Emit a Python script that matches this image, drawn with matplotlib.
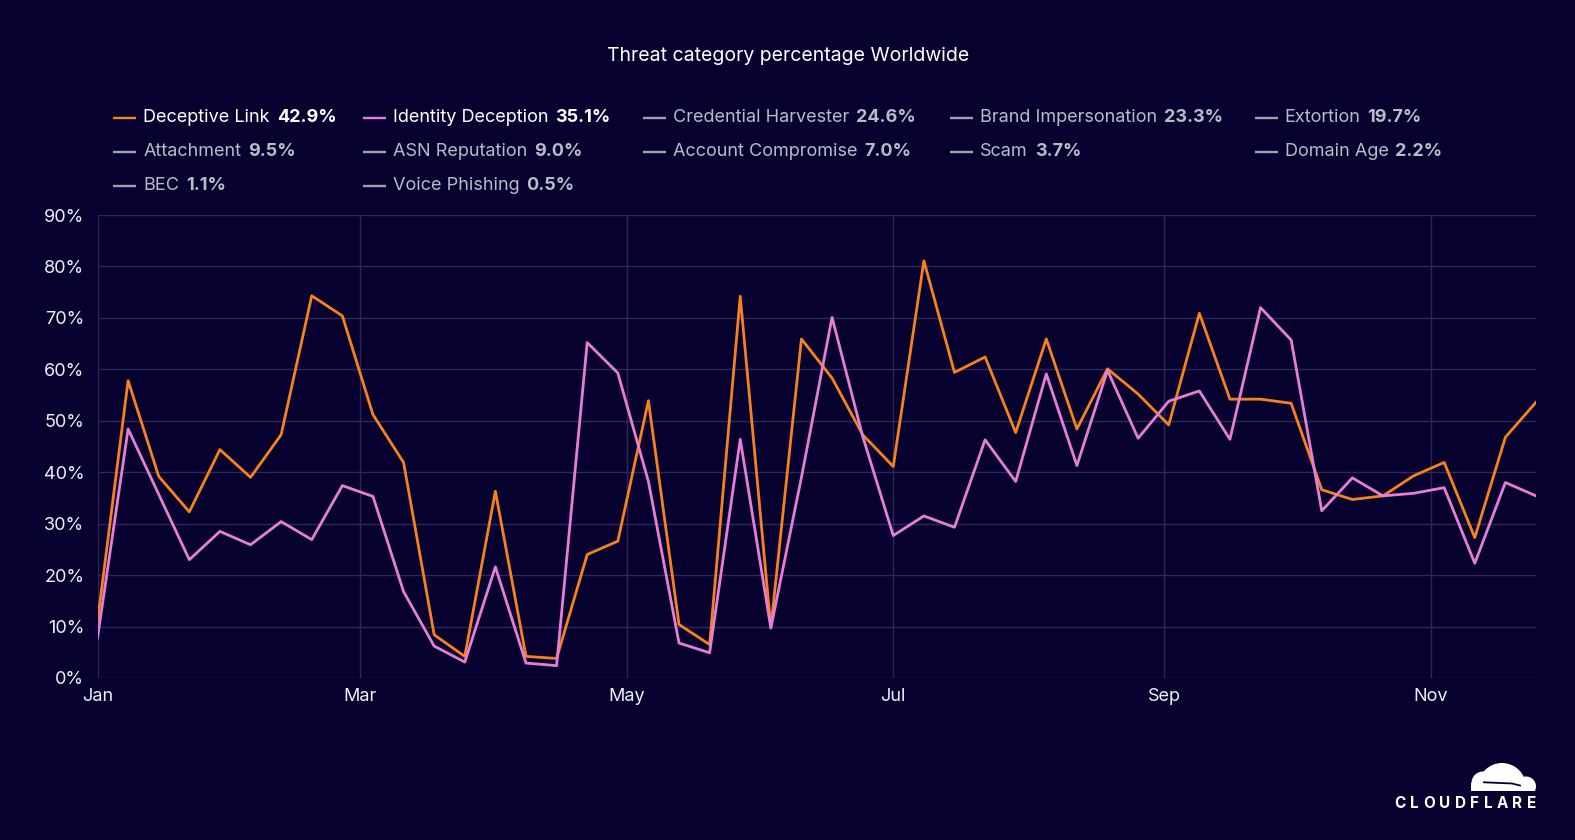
import matplotlib
matplotlib.use('Agg')
import pandas as pd
import matplotlib.pyplot as plt
import matplotlib.dates as mdates
from matplotlib.ticker import MultipleLocator, FuncFormatter
from matplotlib.patches import Circle, Rectangle

# weekly data
dates = pd.date_range('2024-01-01', periods=48, freq='7D')
deceptive_link = [11.0, 57.8, 39.2, 32.3, 44.4, 39.0, 47.3, 74.3, 70.4, 51.2,
                  41.9, 8.4, 4.2, 36.3, 4.2, 3.8, 24.0, 26.6, 53.9, 10.4,
                  6.5, 74.2, 9.8, 65.9, 58.3, 47.3, 41.1, 81.1, 59.4, 62.4,
                  47.7, 65.9, 48.4, 60.1, 55.2, 49.2, 70.9, 54.2, 54.2, 53.4,
                  36.6, 34.7, 35.4, 39.3, 41.9, 27.3, 46.8, 53.6]
identity_deception = [7.8, 48.4, 35.7, 23.0, 28.5, 25.9, 30.4, 26.9, 37.4, 35.3,
                      16.8, 6.2, 3.1, 21.6, 2.9, 2.4, 65.2, 59.3, 38.2, 6.8,
                      4.9, 46.4, 9.7, 39.0, 70.1, 47.0, 27.7, 31.5, 29.3, 46.3,
                      38.2, 59.1, 41.3, 59.8, 46.6, 53.8, 55.8, 46.4, 72.0, 65.7,
                      32.5, 38.9, 35.4, 35.9, 37.0, 22.3, 38.0, 35.4]

legend_names = ['Deceptive Link', 'Identity Deception', 'Credential Harvester',
                'Brand Impersonation', 'Extortion', 'Attachment', 'ASN Reputation',
                'Account Compromise', 'Scam', 'Domain Age', 'BEC', 'Voice Phishing']
legend_values = ['42.9%', '35.1%', '24.6%', '23.3%', '19.7%', '9.5%', '9.0%',
                 '7.0%', '3.7%', '2.2%', '1.1%', '0.5%']

bg = '#070130'
orange = '#f6821f'
pink = '#e57fd3'
grey_line = '#a3a1ad'
grey_text = '#bcbac6'
grid_col = '#2d2858'

plt.rcParams['font.family'] = ['Inter', 'DejaVu Sans']

fig = plt.figure(figsize=(15.75, 8.4), dpi=100)
fig.patch.set_facecolor(bg)

W, H = 1575, 840
ax = fig.add_axes([97.5 / W, (H - 678) / H, (1536 - 97.5) / W, (678 - 215) / H])
ax.set_facecolor(bg)
ax.plot(dates, deceptive_link, color=orange, lw=2)
ax.plot(dates, identity_deception, color=pink, lw=2)
ax.set_xlim(dates[0], dates[-1])
ax.set_ylim(0, 90)
ax.yaxis.set_major_locator(MultipleLocator(10))
ax.yaxis.set_major_formatter(FuncFormatter(lambda v, p: '%d%%' % v))
ax.xaxis.set_major_locator(mdates.MonthLocator(bymonth=[1, 3, 5, 7, 9, 11]))
ax.xaxis.set_major_formatter(mdates.DateFormatter('%b'))
ax.grid(True, color=grid_col, lw=1)
ax.set_axisbelow(True)
for s in ax.spines.values():
    s.set_visible(False)
ax.tick_params(axis='both', length=0, colors='#f0eff5', labelsize=13)
ax.tick_params(axis='y', pad=9.5)
ax.tick_params(axis='x', pad=7.5)

# overlay in pixel coords for title, legend and logo
ov = fig.add_axes([0, 0, 1, 1])
ov.set_xlim(0, W)
ov.set_ylim(H, 0)
ov.axis('off')
ov.patch.set_visible(False)

ov.text(788, 55.7, 'Threat category percentage Worldwide', ha='center', va='center',
        color='white', fontsize=14)

fig.canvas.draw()
renderer = fig.canvas.get_renderer()

row_y = [117.8, 151.8, 185.8]
col_x = [113.3, 362.7, 643, 950.3, 1254.6]
for i, (name, val) in enumerate(zip(legend_names, legend_values)):
    r, c = divmod(i, 5)
    x0, y0 = col_x[c], row_y[r]
    if i == 0:
        lc, tc = orange, 'white'
    elif i == 1:
        lc, tc = pink, 'white'
    else:
        lc, tc = grey_line, grey_text
    ov.plot([x0, x0 + 23], [y0, y0], color=lc, lw=1.7, solid_capstyle='butt')
    t = ov.text(x0 + 30, y0, name, ha='left', va='center', color=tc, fontsize=13)
    bb = t.get_window_extent(renderer)
    ov.text(bb.x1 + 7, y0, val, ha='left', va='center', color=tc,
            fontsize=13, fontweight='bold')

# cloudflare logo, clipped flat at the bottom
clip = Rectangle((1460, 750), 90, 41, transform=ov.transData)
for cx, cy, rad in [(1502, 787, 24), (1483, 783, 11.5), (1526, 786.5, 10)]:
    c = ov.add_patch(Circle((cx, cy), rad, color='white', lw=0))
    c.set_clip_path(clip)
base = ov.add_patch(Rectangle((1471, 783), 60, 8, color='white', lw=0))
ov.plot([1484, 1512, 1520], [782.3, 783.5, 785.5], color=bg, lw=1.3)

letters = 'CLOUDFLARE'
widths = []
for ch in letters:
    tt = ov.text(0, 0, ch, fontsize=11, fontweight='bold')
    widths.append(tt.get_window_extent(renderer).width)
    tt.remove()
track = (142 - sum(widths)) / (len(letters) - 1)
x = 1394
for ch, w in zip(letters, widths):
    ov.text(x, 803.8, ch, ha='left', va='center', color='white', fontsize=11,
            fontweight='bold')
    x += w + track

fig.savefig('out.png', dpi=100, facecolor=bg)
